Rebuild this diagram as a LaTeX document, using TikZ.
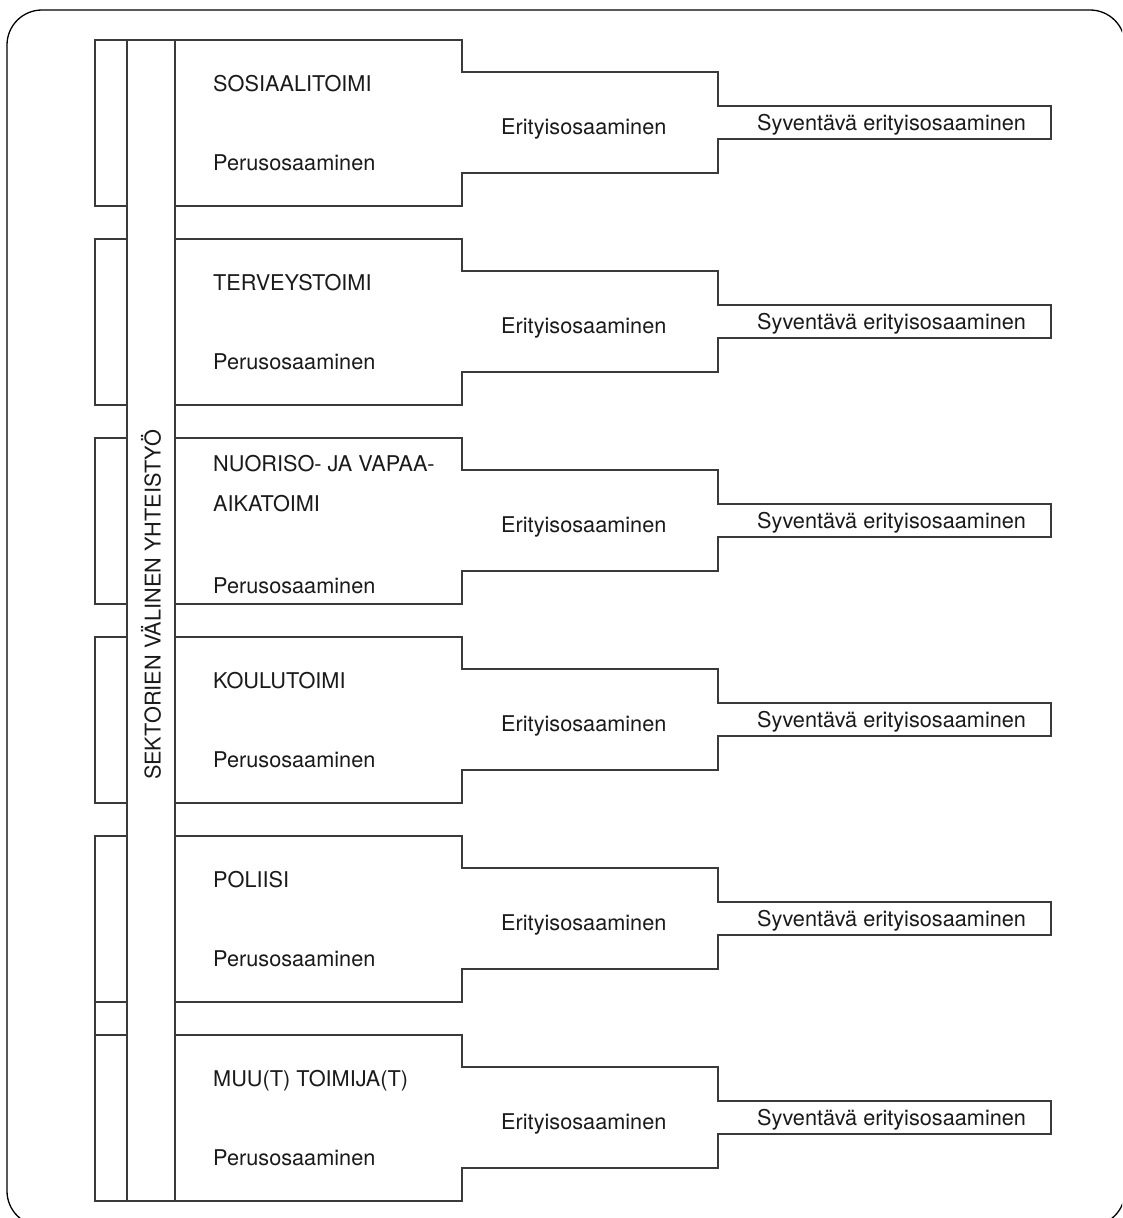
\documentclass[tikz,border=0pt]{standalone}
\usepackage{fontspec}
\setmainfont{TeX Gyre Heros}
\definecolor{linegray}{HTML}{3A3A3A}
\definecolor{textgray}{HTML}{1A1A1A}

\def\secH{166}
\def\secGap{199}

\begin{document}
\begin{tikzpicture}[
    x=1pt, y=-1pt,
    outline/.style={draw=linegray, line width=1.6pt},
    lbl/.style={inner sep=0, anchor=base west, text=textgray, font=\fontsize{21.7}{40}\selectfont},
    title/.style={lbl, align=left},
  ]
  \clip (0,0) rectangle (1122,1218);
  \draw[line width=1.3pt, rounded corners=35] (7,10) rectangle (1125,1226);

  % Cooperation strip
  \draw[outline] (127,40) rectangle (175,1201);
  \node[lbl, anchor=center, rotate=90] (coop) at (151,605) {SEKTORIEN VÄLINEN YHTEISTYÖ};

  % Sectors
  \foreach \t/\ty/\py [count=\i, evaluate={\y=40+\secGap*(\i-1);}] in
    {SOSIAALITOIMI/51/130, TERVEYSTOIMI/51/130, {NUORISO- JA VAPAA-\\AIKATOIMI}/73/155,
     KOULUTOIMI/51/130, POLIISI/51/130, {MUU(T) TOIMIJA(T)}/51/130} {
      \draw[outline] (95,\y) rectangle (127,\y+\secH);
      \draw[outline] (175,\y) -| (462,\y+32) -| (718,\y+66) -| (1051,\y+99)
        -| (718,\y+133) -| (462,\y+\secH) -- (175,\y+\secH);
      \node[title] (title\i) at (213,\y+\ty) {\t};
      \node[lbl] (basic\i) at (213,\y+\py) {Perusosaaminen};
      \node[lbl] (spec\i) at (501,\y+94) {Erityisosaaminen};
      \node[lbl] (deep\i) at (757,\y+90) {Syventävä erityisosaaminen};
    }
  \draw[outline] (95,1002) -- (95,1035);
\end{tikzpicture}
\end{document}
